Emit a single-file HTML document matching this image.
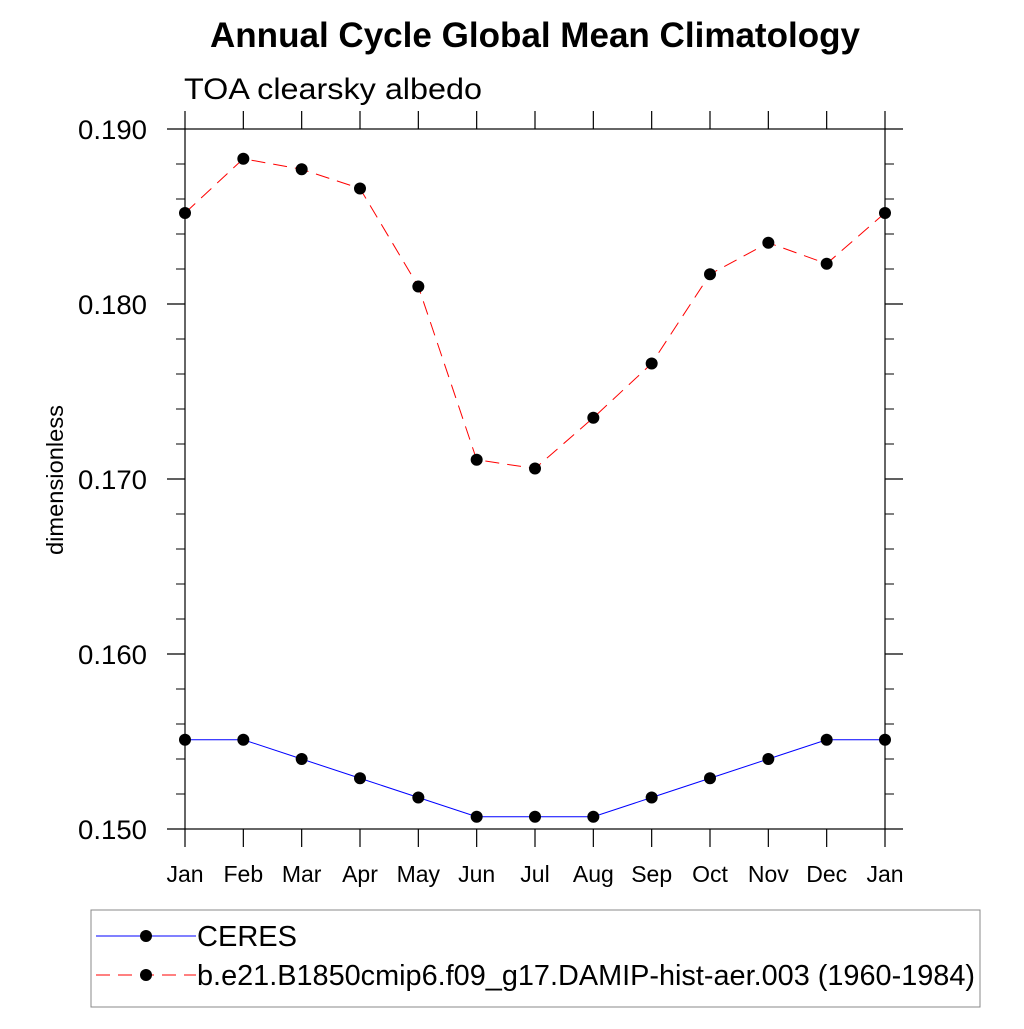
<!DOCTYPE html>
<html><head><meta charset="utf-8"><style>
html,body{margin:0;padding:0;background:#fff;}
svg text{font-family:"Liberation Sans",sans-serif;}
</style></head><body>
<svg id="chart" width="1024" height="1024" viewBox="0 0 1024 1024">
<text x="535" y="47" text-anchor="middle" font-size="35" font-weight="bold" textLength="650" lengthAdjust="spacingAndGlyphs">Annual Cycle Global Mean Climatology</text>
<text x="184" y="99" font-size="30" textLength="298" lengthAdjust="spacingAndGlyphs">TOA clearsky albedo</text>
<text transform="translate(63,480) rotate(-90)" text-anchor="middle" font-size="23" textLength="150" lengthAdjust="spacingAndGlyphs">dimensionless</text>
<g id="axes"></g>
<g id="series"></g>
<g>
<rect x="91" y="910" width="889" height="97" fill="none" stroke="#888" stroke-width="1"/>
<line x1="96" y1="936" x2="196" y2="936" stroke="#0000ff" stroke-width="1"/>
<circle cx="146" cy="936" r="6" fill="#000"/>
<text x="197" y="946" font-size="29" textLength="100" lengthAdjust="spacingAndGlyphs">CERES</text>
<line x1="96" y1="975" x2="196" y2="975" stroke="#ff0000" stroke-width="1" stroke-dasharray="14,8"/>
<circle cx="146" cy="975" r="6" fill="#000"/>
<text x="197" y="985" font-size="29" textLength="778" lengthAdjust="spacingAndGlyphs">b.e21.B1850cmip6.f09_g17.DAMIP-hist-aer.003 (1960-1984)</text>
</g>
</svg>
<script>
const months = ["Jan","Feb","Mar","Apr","May","Jun","Jul","Aug","Sep","Oct","Nov","Dec","Jan"];
const ceres = [0.1551,0.1551,0.1540,0.1529,0.1518,0.1507,0.1507,0.1507,0.1518,0.1529,0.1540,0.1551,0.1551];
const model = [0.1852,0.1883,0.1877,0.1866,0.1810,0.1711,0.1706,0.1735,0.1766,0.1817,0.1835,0.1823,0.1852];
const yTicks = [0.150,0.160,0.170,0.180,0.190];
const yTickLabels = ["0.150","0.160","0.170","0.180","0.190"];
const X0=185, X1=885, Y0=829, Y1=129, YMIN=0.150, YMAX=0.190;
const xs = i => X0 + i*(X1-X0)/(months.length-1);
const ys = v => Y0 - (v-YMIN)/(YMAX-YMIN)*(Y0-Y1);
const NS="http://www.w3.org/2000/svg";
function mk(tag, attrs, parent){const e=document.createElementNS(NS,tag);for(const k in attrs)e.setAttribute(k,attrs[k]);parent.appendChild(e);return e;}
const ax=document.getElementById('axes');
let e;
e=mk('rect',{x:X0,y:Y1,width:X1-X0,height:Y0-Y1,fill:'none',stroke:'#000','stroke-width':1.2},ax);


for(let i=0;i<yTicks.length;i++){
  const y=ys(yTicks[i]);
  e=mk('line',{x1:X0-18,y1:y,x2:X0,y2:y,stroke:'#000','stroke-width':1.2},ax);
  
  
  e=mk('line',{x1:X1,y1:y,x2:X1+18,y2:y,stroke:'#000','stroke-width':1.2},ax);
  
  
  e=mk('text',{x:147,y:y+10,'text-anchor':'end','font-size':27,textLength:69,lengthAdjust:'spacingAndGlyphs'},ax);
  e.textContent=yTickLabels[i];
  
  
}
for(let v=YMIN+0.002;v<YMAX-0.0005;v+=0.002){
  if(Math.abs((v-YMIN)/0.01-Math.round((v-YMIN)/0.01))<0.01)continue;
  const y=ys(v);
  e=mk('line',{x1:X0-9,y1:y,x2:X0,y2:y,stroke:'#000','stroke-width':1},ax);
  
  
  e=mk('line',{x1:X1,y1:y,x2:X1+9,y2:y,stroke:'#000','stroke-width':1},ax);
  
  
}
for(let i=0;i<months.length;i++){
  const x=xs(i);
  e=mk('line',{x1:x,y1:Y1-18,x2:x,y2:Y1,stroke:'#000','stroke-width':1.2},ax);
  
  
  e=mk('line',{x1:x,y1:Y0,x2:x,y2:Y0+18,stroke:'#000','stroke-width':1.2},ax);
  
  
  e=mk('text',{x:x,y:882,'text-anchor':'middle','font-size':23},ax);
  e.textContent=months[i];
  
  
}
const sg=document.getElementById('series');
function drawSeries(vals,color,dash,name){
  const pts=vals.map((v,i)=>xs(i)+','+ys(v)).join(' ');
  const attrs={points:pts,fill:'none',stroke:color,'stroke-width':1};
  if(dash)attrs['stroke-dasharray']=dash;
  e=mk('polyline',attrs,sg);
  
  
  vals.forEach((v,i)=>{
    e=mk('circle',{cx:xs(i),cy:ys(v),r:6,fill:'#000'},sg);
    
    
  });
}
drawSeries(ceres,'#0000ff',null,'ceres');
drawSeries(model,'#ff0000','14,8','model');
</script>
</body></html>
